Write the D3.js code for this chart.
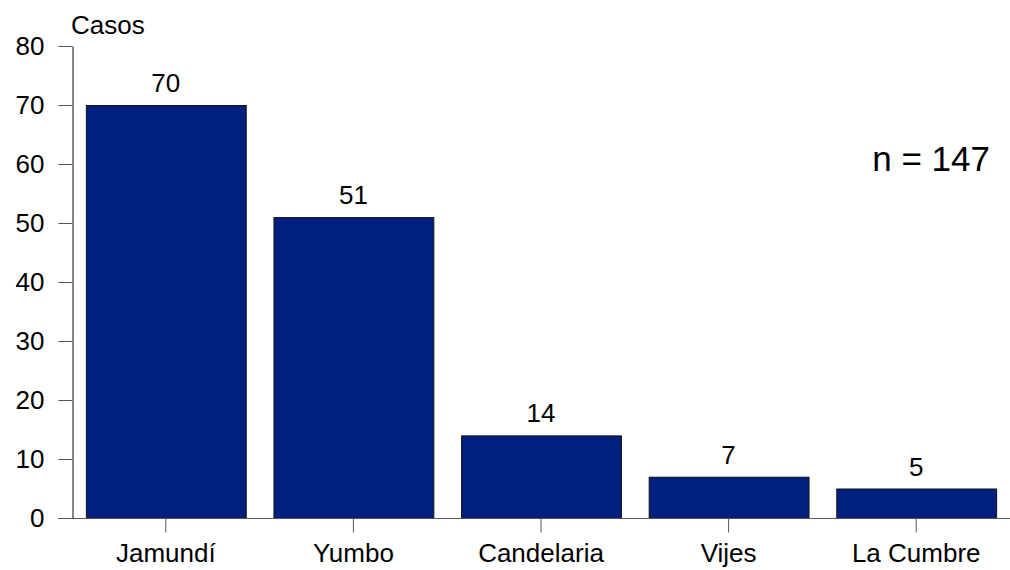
<!DOCTYPE html>
<html>
<head>
<meta charset="utf-8">
<script src="https://cdn.jsdelivr.net/npm/d3@7"></script>
<style>
  html, body { margin: 0; padding: 0; background: #fff; }
  svg { display: block; font-family: "Liberation Sans", Arial, sans-serif; }
</style>
</head>
<body>
<svg id="chart" width="1010" height="570"></svg>
<script>
const categories = ["Jamundí", "Yumbo", "Candelaria", "Vijes", "La Cumbre"];
const values = [70, 51, 14, 7, 5];
const yTicks = [0, 10, 20, 30, 40, 50, 60, 70, 80];
const yLabel = "Casos";
const note = "n = 147";

(function () {
const svg = d3.select("#chart");
const mLeft = 72, mRight = 1010, mTop = 46, mBottom = 518;
const fs = 26;

const x = d3.scaleBand().domain(categories).range([mLeft, mRight])
  .paddingInner(0.148).paddingOuter(0.074);
const y = d3.scaleLinear().domain([0, 80]).range([mBottom, mTop]);

// bars
svg.append("g").selectAll("rect").data(values).join("rect")
  .attr("x", (d, i) => x(categories[i]) + 0.5)
  .attr("y", d => y(d) + 0.5)
  .attr("width", x.bandwidth())
  .attr("height", d => y(0) - y(d))
  .attr("fill", "#00207f")
  .attr("stroke", "#111")
  .attr("stroke-width", 1);

// y axis
const yAxis = svg.append("g").attr("transform", `translate(${mLeft + 0.5},0)`)
  .call(d3.axisLeft(y).tickValues(yTicks).tickSize(14).tickPadding(14).tickSizeOuter(0));
yAxis.select(".domain").attr("stroke", "#111");
yAxis.selectAll(".tick line").attr("stroke", "#555");
yAxis.selectAll("text").attr("font-size", fs).attr("fill", "#000")
  .attr("font-family", "Liberation Sans, Arial, sans-serif");

// x axis
const xAxis = svg.append("g").attr("transform", `translate(0,${mBottom + 0.5})`)
  .call(d3.axisBottom(x).tickSize(14).tickPadding(11).tickSizeOuter(0));
xAxis.select(".domain").attr("stroke", "#555").attr("d", `M${mLeft - 14},0H${mRight}`);
xAxis.selectAll(".tick line").attr("stroke", "#555");
xAxis.selectAll("text").attr("font-size", fs).attr("fill", "#000")
  .attr("font-family", "Liberation Sans, Arial, sans-serif");

// value labels
svg.append("g").selectAll("text").data(values).join("text")
  .attr("x", (d, i) => x(categories[i]) + x.bandwidth() / 2)
  .attr("y", d => y(d) - 13)
  .attr("text-anchor", "middle")
  .attr("font-size", fs)
  .attr("fill", "#000")
  .text(d => d);

// y label
svg.append("text").attr("x", 71).attr("y", 34)
  .attr("font-size", fs).attr("fill", "#000").text(yLabel);

// n note
svg.append("text").attr("x", 990).attr("y", 171)
  .attr("text-anchor", "end")
  .attr("font-size", 35).attr("fill", "#000").text(note);
})();
</script>
</body>
</html>
